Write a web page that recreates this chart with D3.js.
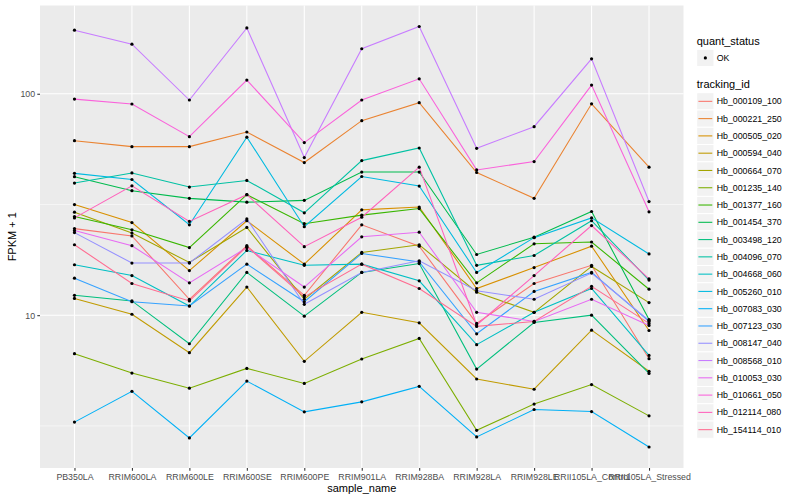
<!DOCTYPE html>
<html>
<head>
<meta charset="utf-8">
<script src="https://cdn.jsdelivr.net/npm/d3@7"></script>
<style>
body { margin: 0; background: #fff; }
text { font-family: "Liberation Sans", Arial, sans-serif; }
</style>
</head>
<body>
<div id="chart"></div>
<script>
// x categories
var samples = ["PB350LA", "RRIM600LA", "RRIM600LE", "RRIM600SE", "RRIM600PE",
    "RRIM901LA", "RRIM928BA", "RRIM928LA", "RRIM928LE",
    "RRII105LA_Control", "RRII105LA_Stressed"];

var trackingIds = ["Hb_000109_100", "Hb_000221_250", "Hb_000505_020", "Hb_000594_040",
    "Hb_000664_070", "Hb_001235_140", "Hb_001377_160", "Hb_001454_370",
    "Hb_003498_120", "Hb_004096_070", "Hb_004668_060", "Hb_005260_010",
    "Hb_007083_030", "Hb_007123_030", "Hb_008147_040", "Hb_008568_010",
    "Hb_010053_030", "Hb_010661_050", "Hb_012114_080", "Hb_154114_010"];

// FPKM + 1 per sample (same order as samples)
var hb_000109_100 = [24.6, 22.8, 11.8, 20.6, 12.3, 25.6, 20.5, 9.18, 13.9, 16.8, 6.36];
var hb_000221_250 = [61.4, 57.7, 57.7, 67.2, 48.9, 75.6, 91.1, 44.1, 33.7, 90.1, 46.6];
var hb_000505_020 = [31.6, 26.2, 15.9, 26.7, 17.0, 29.9, 30.8, 13.2, 16.4, 20.5, 8.53];
var hb_000594_040 = [11.9, 10.1, 6.77, 13.4, 6.19, 10.3, 9.24, 5.15, 4.63, 8.56, 5.58];
var hb_000664_070 = [29.2, 23.5, 17.3, 24.9, 11.8, 19.2, 20.8, 12.7, 10.3, 16.6, 11.4];
var hb_001235_140 = [6.70, 5.48, 4.68, 5.75, 4.92, 6.34, 7.85, 3.02, 3.97, 4.86, 3.51];
var hb_001377_160 = [27.9, 24.3, 20.2, 35.0, 25.9, 28.3, 30.3, 14.0, 21.0, 21.4, 13.1];
var hb_001454_370 = [42.2, 36.5, 33.7, 32.4, 33.0, 44.3, 44.3, 18.8, 22.5, 29.4, 9.56];
var hb_003498_120 = [12.3, 11.6, 7.43, 15.6, 9.9, 15.6, 17.1, 5.71, 9.27, 10.0, 5.46];
var hb_004096_070 = [39.5, 43.9, 37.9, 40.6, 29.0, 49.9, 56.9, 16.8, 18.6, 26.7, 14.4];
var hb_004668_060 = [16.9, 15.1, 11.0, 19.6, 16.8, 17.0, 14.3, 7.36, 10.3, 13.2, 6.58];
var hb_005260_010 = [43.7, 41.0, 25.6, 63.7, 25.1, 42.3, 38.3, 15.6, 22.4, 27.5, 18.9];
var hb_007083_030 = [3.29, 4.53, 2.79, 5.04, 3.66, 4.06, 4.77, 2.82, 3.75, 3.67, 2.54];
var hb_007123_030 = [14.7, 11.5, 11.0, 17.0, 11.5, 19.0, 17.4, 8.24, 12.8, 15.6, 9.37];
var hb_008147_040 = [23.6, 17.2, 17.2, 27.2, 11.2, 15.6, 17.6, 12.9, 11.8, 15.5, 9.46];
var hb_008568_010 = [193.7, 167.5, 93.7, 198.2, 51.5, 159.7, 201.2, 56.7, 71.0, 143.8, 32.6];
var hb_010053_030 = [24.1, 20.6, 14.0, 20.2, 13.4, 22.6, 23.7, 10.3, 9.37, 11.8, 8.99];
var hb_010661_050 = [94.6, 89.9, 64.0, 115.3, 60.2, 93.7, 116.8, 45.3, 49.4, 109.4, 29.3];
var hb_012114_080 = [27.5, 38.4, 26.5, 35.0, 20.4, 27.7, 46.6, 9.03, 15.1, 25.4, 14.6];
var hb_154114_010 = [20.8, 13.9, 11.6, 20.4, 12.1, 17.0, 13.2, 8.9, 9.37, 13.5, 9.18];

var seriesValues = [hb_000109_100, hb_000221_250, hb_000505_020, hb_000594_040,
    hb_000664_070, hb_001235_140, hb_001377_160, hb_001454_370,
    hb_003498_120, hb_004096_070, hb_004668_060, hb_005260_010,
    hb_007083_030, hb_007123_030, hb_008147_040, hb_008568_010,
    hb_010053_030, hb_010661_050, hb_012114_080, hb_154114_010];

var yMajorTicks = [10, 100];
var yMinorTicks = [Math.pow(10, 0.5), Math.pow(10, 1.5), Math.pow(10, 2.5)];

// ggplot hue palette for 20 levels
var palette = ["#F8766D", "#EA8331", "#D89000", "#C09B00", "#A3A500", "#7CAE00",
    "#39B600", "#00BB4E", "#00BF7D", "#00C1A3", "#00BFC4", "#00BAE0",
    "#00B0F6", "#35A2FF", "#9590FF", "#C77CFF", "#E76BF3", "#FA62DB",
    "#FF62BC", "#FF6C91"];

var width = 800, height = 500;
var panel = { left: 40, right: 683.5, top: 5.5, bottom: 468 };

var svg = d3.select("#chart")
    .append("svg")
    .attr("width", width)
    .attr("height", height);

// scales
var x = d3.scalePoint()
    .domain(samples)
    .range([panel.left, panel.right])
    .padding(0.6);

var allValues = d3.merge(seriesValues);
var lo = Math.log10(d3.min(allValues)), hi = Math.log10(d3.max(allValues));
var pad = (hi - lo) * 0.05;
var y = d3.scaleLog()
    .domain([Math.pow(10, lo - pad), Math.pow(10, hi + pad)])
    .range([panel.bottom, panel.top]);

var color = d3.scaleOrdinal().domain(trackingIds).range(palette);

// panel background
svg.append("rect")
    .attr("x", panel.left)
    .attr("y", panel.top)
    .attr("width", panel.right - panel.left)
    .attr("height", panel.bottom - panel.top)
    .attr("fill", "#EBEBEB");

var grid = svg.append("g");
grid.selectAll(".minor")
    .data(yMinorTicks.filter(function (d) { return d > y.domain()[0] && d < y.domain()[1]; }))
    .enter().append("line")
    .attr("x1", panel.left).attr("x2", panel.right)
    .attr("y1", function (d) { return y(d); })
    .attr("y2", function (d) { return y(d); })
    .attr("stroke", "#fff").attr("stroke-width", 0.53);
grid.selectAll(".major")
    .data(yMajorTicks)
    .enter().append("line")
    .attr("x1", panel.left).attr("x2", panel.right)
    .attr("y1", function (d) { return y(d); })
    .attr("y2", function (d) { return y(d); })
    .attr("stroke", "#fff").attr("stroke-width", 1.07);
grid.selectAll(".vmajor")
    .data(samples)
    .enter().append("line")
    .attr("y1", panel.top).attr("y2", panel.bottom)
    .attr("x1", function (d) { return x(d); })
    .attr("x2", function (d) { return x(d); })
    .attr("stroke", "#fff").attr("stroke-width", 1.07);

// lines
var line = d3.line()
    .x(function (d, i) { return x(samples[i]); })
    .y(function (d) { return y(d); });

svg.append("g").selectAll("path")
    .data(seriesValues)
    .enter().append("path")
    .attr("d", line)
    .attr("fill", "none")
    .attr("stroke", function (d, i) { return color(trackingIds[i]); })
    .attr("stroke-width", 1.07);

// points
var pts = [];
seriesValues.forEach(function (vals) {
    vals.forEach(function (v, i) { pts.push({ s: samples[i], v: v }); });
});
svg.append("g").selectAll("circle")
    .data(pts)
    .enter().append("circle")
    .attr("cx", function (d) { return x(d.s); })
    .attr("cy", function (d) { return y(d.v); })
    .attr("r", 1.6)
    .attr("fill", "#000");

// axes
var yAxis = svg.append("g")
    .attr("transform", "translate(" + panel.left + ",0)")
    .call(d3.axisLeft(y).tickValues(yMajorTicks).tickFormat(d3.format("d"))
        .tickSize(2.7).tickPadding(2.2));
var xAxis = svg.append("g")
    .attr("transform", "translate(0," + panel.bottom + ")")
    .call(d3.axisBottom(x).tickSize(2.7).tickPadding(3));

[xAxis, yAxis].forEach(function (ax) {
    ax.select(".domain").remove();
    ax.selectAll(".tick line").attr("stroke", "#333").attr("stroke-width", 1.07);
    ax.selectAll(".tick text")
        .attr("fill", "#4D4D4D")
        .style("font-size", "8.8px")
        .style("font-family", "'Liberation Sans', Arial, sans-serif");
});

// axis titles
svg.append("text")
    .attr("x", (panel.left + panel.right) / 2)
    .attr("y", 492)
    .attr("text-anchor", "middle")
    .style("font-size", "11px")
    .text("sample_name");
svg.append("text")
    .attr("transform", "translate(16," + ((panel.top + panel.bottom) / 2) + ") rotate(-90)")
    .attr("text-anchor", "middle")
    .style("font-size", "11px")
    .text("FPKM + 1");

// legends
var legend = svg.append("g").attr("transform", "translate(696.7,0)");
var keySize = 17.28;

legend.append("text").attr("x", 0).attr("y", 44.5)
    .style("font-size", "11px").text("quant_status");
legend.append("rect").attr("x", 0).attr("y", 49.3)
    .attr("width", keySize).attr("height", keySize)
    .attr("fill", "#F2F2F2").attr("stroke", "#fff");
legend.append("circle").attr("cx", keySize / 2).attr("cy", 49.3 + keySize / 2)
    .attr("r", 1.6).attr("fill", "#000");
legend.append("text").attr("x", 20).attr("y", 49.3 + keySize / 2 + 3.1)
    .style("font-size", "8.8px").text("OK");

legend.append("text").attr("x", 0).attr("y", 88)
    .style("font-size", "11px").text("tracking_id");

var keys = legend.selectAll(".key")
    .data(trackingIds)
    .enter().append("g")
    .attr("transform", function (d, i) { return "translate(0," + (92.7 + i * keySize) + ")"; });
keys.append("rect")
    .attr("width", keySize).attr("height", keySize)
    .attr("fill", "#F2F2F2").attr("stroke", "#fff");
keys.append("line")
    .attr("x1", 1.7).attr("x2", keySize - 1.7)
    .attr("y1", keySize / 2).attr("y2", keySize / 2)
    .attr("stroke", function (d) { return color(d); })
    .attr("stroke-width", 1.07);
keys.append("text")
    .attr("x", 20).attr("y", keySize / 2 + 3.1)
    .style("font-size", "8.8px")
    .text(function (d) { return d; });
</script>
</body>
</html>
